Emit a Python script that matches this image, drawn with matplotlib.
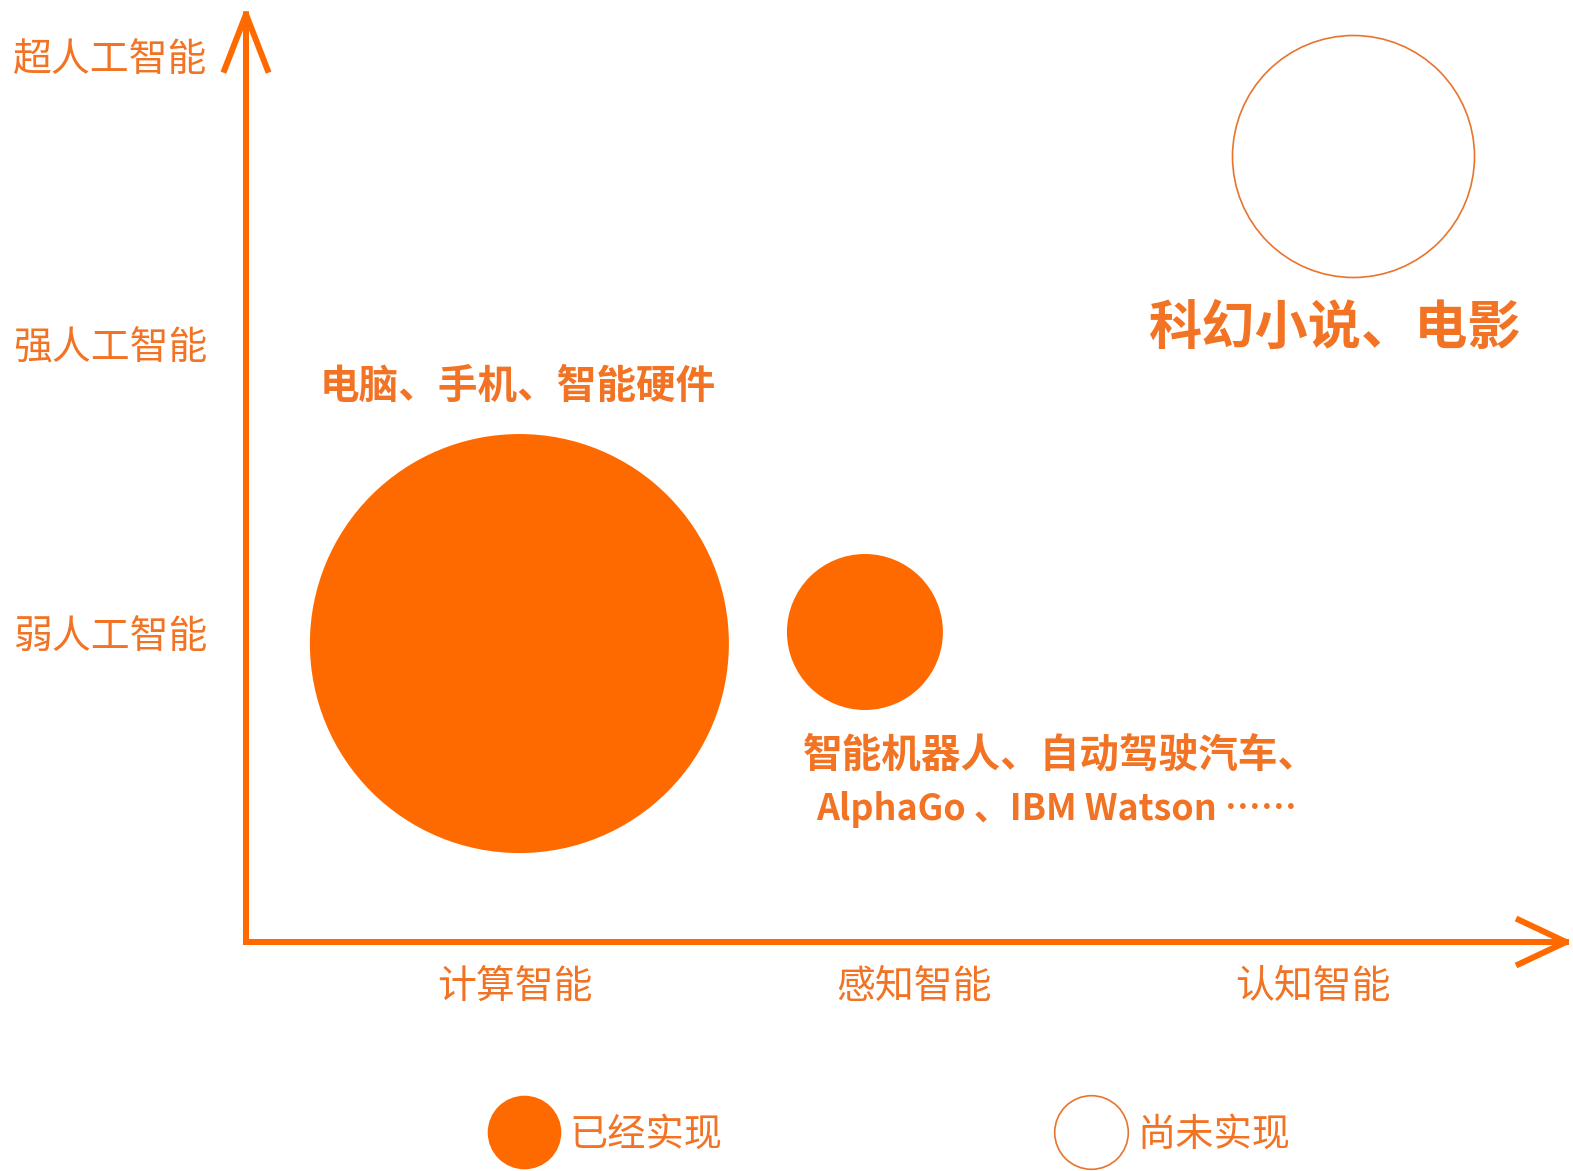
import matplotlib
matplotlib.use('Agg')
import matplotlib.pyplot as plt
from matplotlib.lines import Line2D

plt.rcParams['font.family'] = ['Noto Sans CJK SC', 'DejaVu Sans']

# ---------------- data ----------------
x_categories = ['计算智能', '感知智能', '认知智能']
y_levels = ['弱人工智能', '强人工智能', '超人工智能']

bubble_x = [0.011, 0.877, 2.1]
bubble_y = [-0.04, 0.0, 1.65]
bubble_radius = [209.5, 78, 121]        # relative bubble size
bubble_realized = [True, True, False]
bubble_labels = [
    ['电脑、手机、智能硬件'],
    ['智能机器人、自动驾驶汽车、', 'AlphaGo 、IBM Watson ……'],
    ['科幻小说、电影'],
]
legend_labels = ['已经实现', '尚未实现']

# ---------------- style ----------------
BUBBLE = '#FF6A00'
AXIS = '#FF6A00'
TEXT = '#F27324'
RING = '#E8742E'

W, H, DPI = 1573, 1171, 100
PT = 72 / DPI

fig = plt.figure(figsize=(W / DPI, H / DPI), dpi=DPI, facecolor='white')
left_px, bottom_px, right_px, top_px = 246, 942, 1573, 6
ax = fig.add_axes([left_px / W, 1 - bottom_px / H,
                   (right_px - left_px) / W, (bottom_px - top_px) / H])
ax.set_facecolor('none')

x0_px, dx_px = 515, 399
y0_px, dy_px = 632, 288.5
ax.set_xlim((left_px - x0_px) / dx_px, (right_px - x0_px) / dx_px)
ax.set_ylim((y0_px - bottom_px) / dy_px, (y0_px - top_px) / dy_px)

for s in ax.spines.values():
    s.set_visible(False)

ax.set_xticks(range(len(x_categories)), x_categories)
ax.set_yticks(range(len(y_levels)), y_levels)
ax.tick_params(axis='both', length=0, labelsize=28, labelcolor=TEXT)
ax.tick_params(axis='y', pad=28)
ax.tick_params(axis='x', pad=18)

# axes arrows
lw_axis = 6 * PT
ax.annotate('', xy=(0, 1), xytext=(0, 0), xycoords='axes fraction',
            arrowprops=dict(arrowstyle='->,head_length=40,head_width=15.5',
                            mutation_scale=1, lw=lw_axis, color=AXIS,
                            shrinkA=0, shrinkB=0, capstyle='projecting'))
ax.annotate('', xy=(1, 0), xytext=(0, 0), xycoords='axes fraction',
            arrowprops=dict(arrowstyle='->,head_length=34,head_width=16',
                            mutation_scale=1, lw=lw_axis, color=AXIS,
                            shrinkA=0, shrinkB=0, capstyle='projecting'))

# bubbles
for x, y, r, real in zip(bubble_x, bubble_y, bubble_radius, bubble_realized):
    s = (2 * r * PT) ** 2
    if real:
        ax.scatter(x, y, s=s, c=BUBBLE, edgecolors='none', clip_on=False, zorder=3)
    else:
        ax.scatter(x, y, s=s, facecolors='white', edgecolors=RING,
                   linewidths=1.2, clip_on=False, zorder=3)

# bubble annotations
ax.annotate(bubble_labels[0][0], (bubble_x[0], bubble_y[0]), xytext=(-1.5, 185),
            textcoords='offset points', ha='center', va='center',
            fontsize=28.5, fontweight='bold', color=TEXT)
ax.annotate(bubble_labels[1][0], (bubble_x[1], bubble_y[1]), xytext=(-45, -88.5),
            textcoords='offset points', ha='left', va='center',
            fontsize=28.5, fontweight='bold', color=TEXT)
ax.annotate(bubble_labels[1][1], (bubble_x[1], bubble_y[1]), xytext=(-35, -128),
            textcoords='offset points', ha='left', va='center',
            fontsize=25.8, fontweight='bold', color=TEXT)
ax.annotate(bubble_labels[2][0], (bubble_x[2], bubble_y[2]), xytext=(-13, -124),
            textcoords='offset points', ha='center', va='center',
            fontsize=38.3, fontweight='bold', color=TEXT)

# legend
handles = [
    Line2D([], [], ls='none', marker='o', markersize=53,
           markerfacecolor=BUBBLE, markeredgecolor='none'),
    Line2D([], [], ls='none', marker='o', markersize=53,
           markerfacecolor='white', markeredgecolor=RING, markeredgewidth=1.2),
]
fig.legend(handles, legend_labels, loc='center', bbox_to_anchor=(888 / W, 36 / H),
           bbox_transform=fig.transFigure, ncol=2, frameon=False, fontsize=27.5,
           handlelength=2, handletextpad=0.2, columnspacing=8.65, borderpad=0,
           labelcolor=TEXT)

fig.savefig('out.png', dpi=DPI, facecolor='white')
